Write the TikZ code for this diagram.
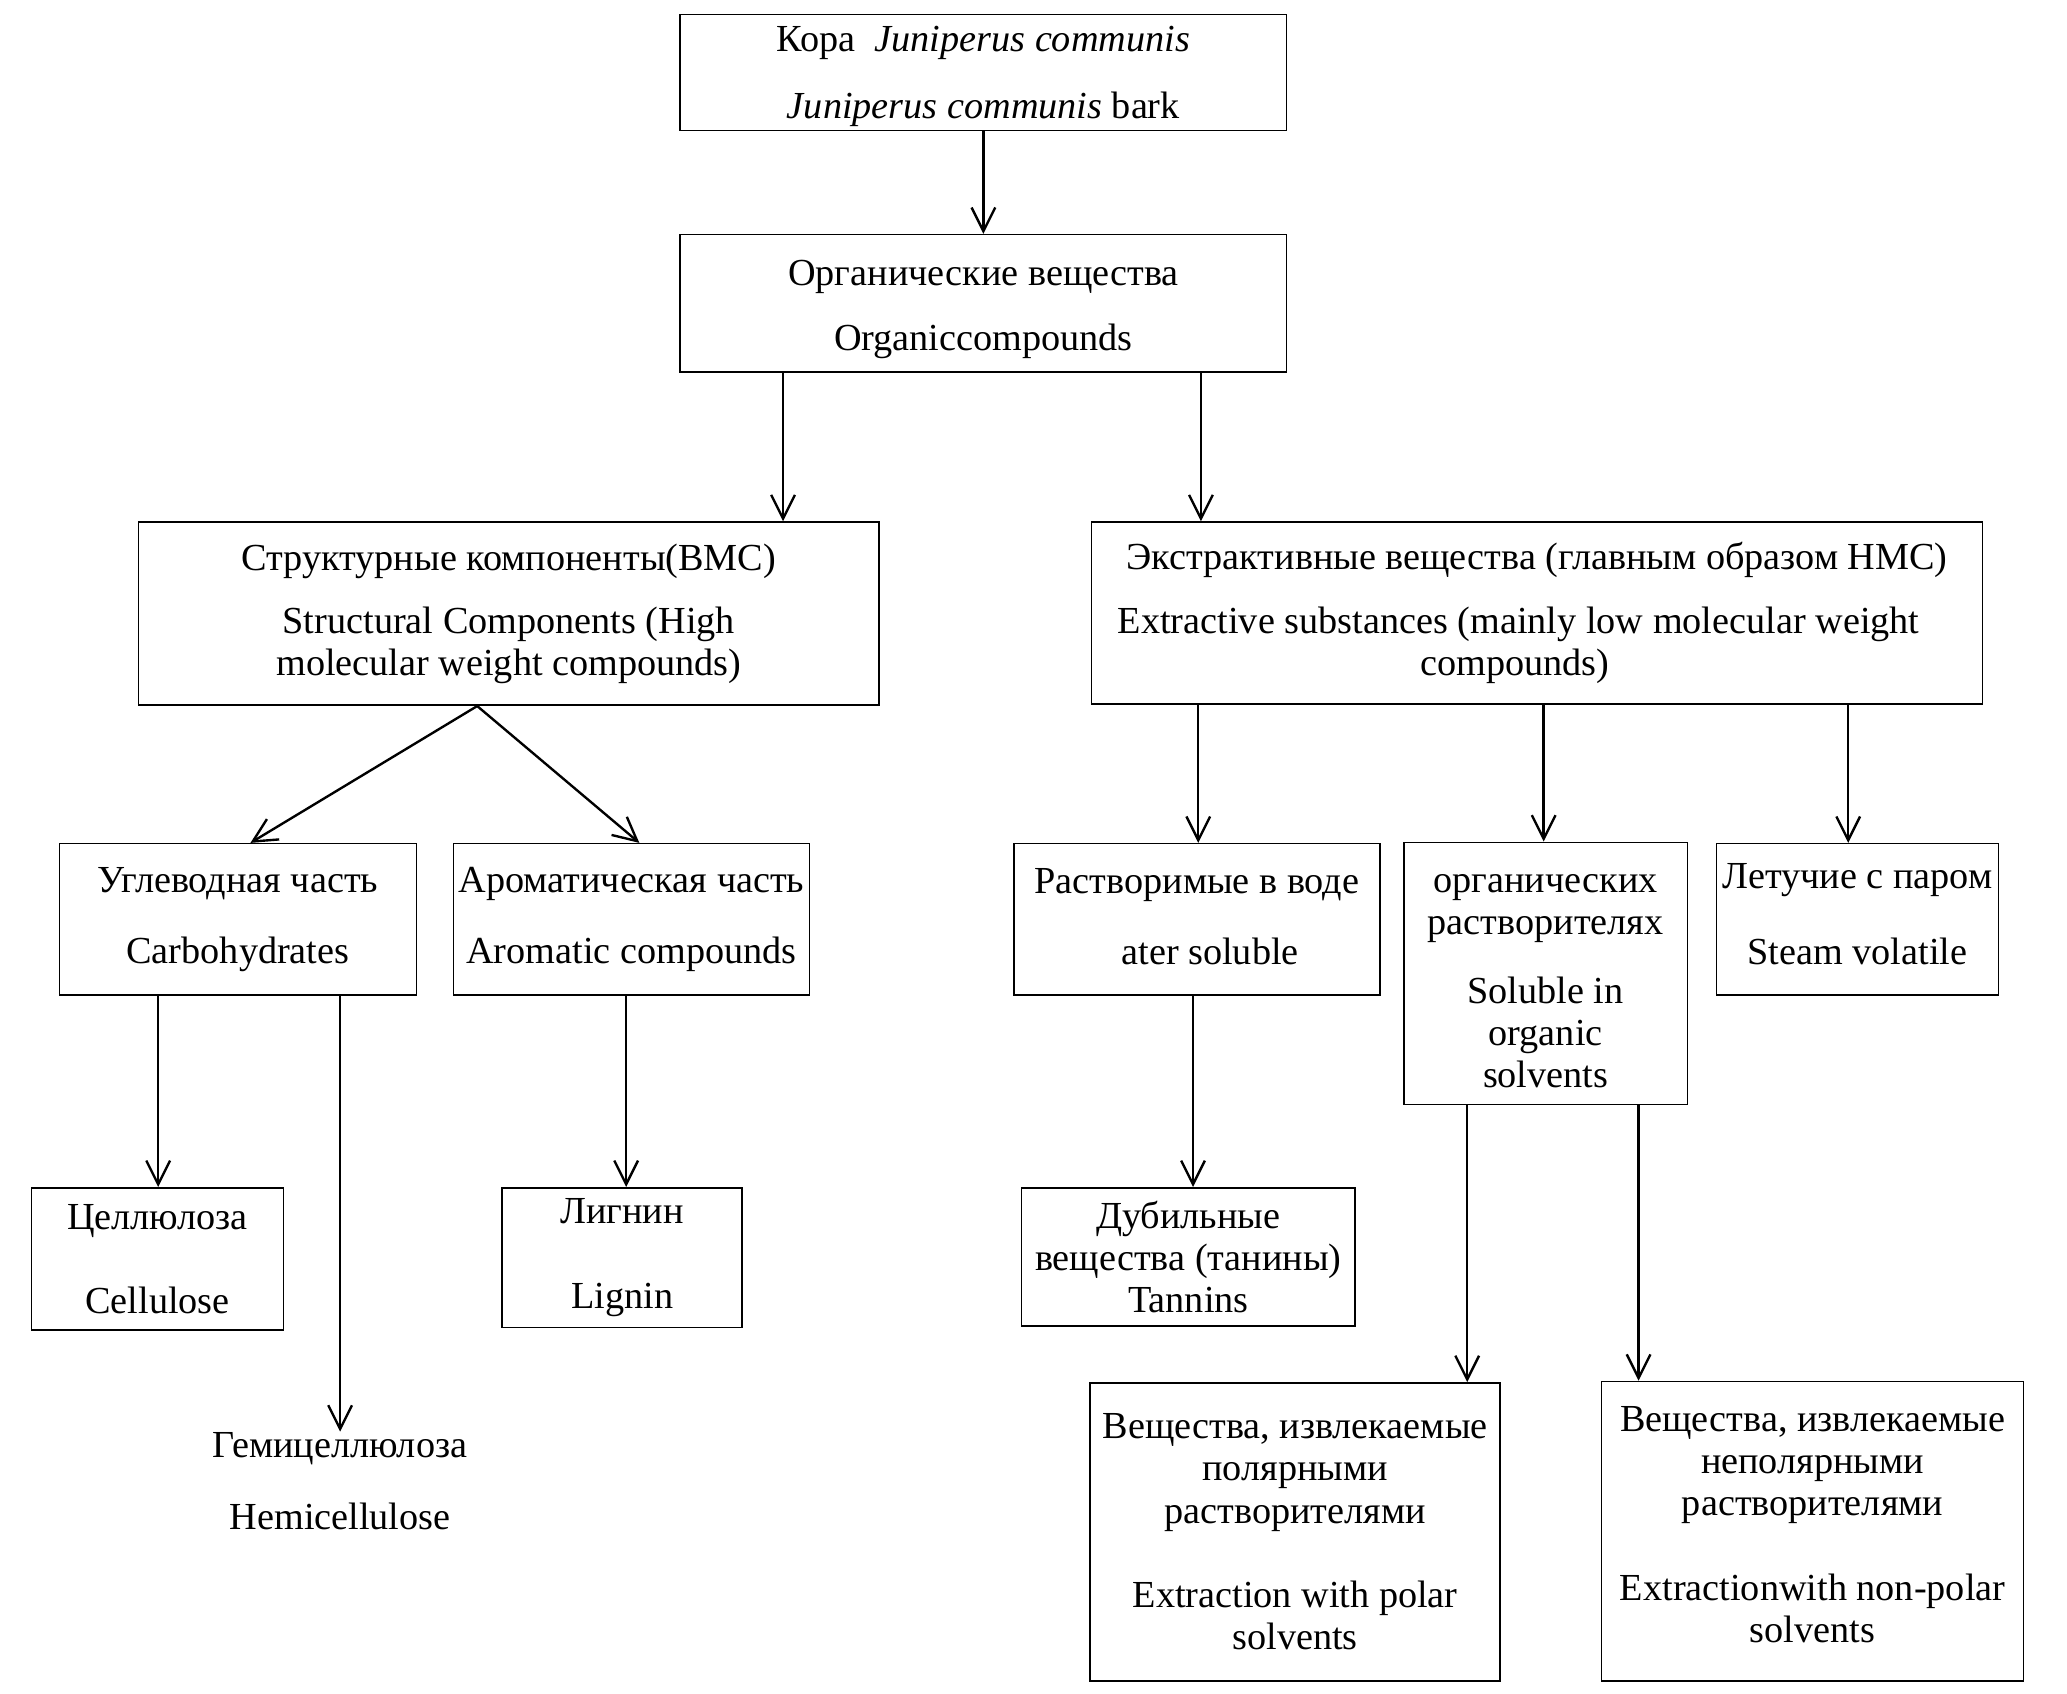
\documentclass[tikz,border=0pt]{standalone}
\usepackage{fontspec}
\setmainfont{Liberation Serif}
\usetikzlibrary{arrows.meta}
\begin{document}
\begin{tikzpicture}[x=0.5pt,y=-0.5pt,
  box/.style={draw, line width=0.6pt, inner sep=0pt, align=center,
    font=\fontsize{14.5pt}{16pt}\selectfont},
  txt/.style={inner sep=0pt, align=center, font=\fontsize{14.5pt}{16pt}\selectfont},
  arr/.style={line width=0.9pt, -{Straight Barb[length=9pt,width=9pt,line width=0.9pt]}}]
\useasboundingbox (0,0) rectangle (1568,1285);
% boxes
\node[box, minimum width=230pt, minimum height=44pt] (b1) at (746,55)
  {\rule{0pt}{12.6pt}Кора\ \ \textit{Juniperus communis}\\[9.5pt]\textit{Juniperus communis} bark};
\node[box, minimum width=230pt, minimum height=52pt] (b2) at (746,230)
  {\rule{0pt}{14.3pt}Органические вещества\\[8.5pt]Organiccompounds};
\node[box, minimum width=281pt, minimum height=69.5pt] (b3) at (386,465.5)
  {Структурные компоненты(ВМС)\\[8pt]Structural Components (High\\molecular weight compounds)};
\node[box, minimum width=338pt, minimum height=69pt] (b4) at (1166,465)
  {Экстрактивные вещества (главным образом НМС)\\[8pt]Extractive substances (mainly low molecular weight\rule{14pt}{0pt}\\compounds)\rule{17pt}{0pt}};
\node[box, minimum width=135.5pt, minimum height=57.5pt] (b5) at (180.5,697.5)
  {Углеводная часть\\[11pt]Carbohydrates};
\node[box, minimum width=135pt, minimum height=57.5pt] (b6) at (479,697.5)
  {Ароматическая часть\\[11pt]Aromatic compounds};
\node[box, minimum width=139pt, minimum height=57.5pt] (b7) at (908,697.5)
  {Растворимые в воде\\[11pt]\hspace*{10pt}ater soluble\rule[-2pt]{0pt}{2pt}};
\node[box, minimum width=107.5pt, minimum height=99.5pt] (b8) at (1172.5,738.5)
  {\rule{0pt}{12.7pt}органических\\растворителях\\[10pt]Soluble in\\organic\\solvents};
\node[box, minimum width=107pt, minimum height=57.5pt] (b9) at (1409,697.5)
  {Летучие с паром\\[13pt]Steam volatile\rule[-4pt]{0pt}{4pt}};
\node[box, minimum width=95.5pt, minimum height=54pt] (b10) at (119.5,955)
  {Целлюлоза\\[16pt]Cellulose};
\node[box, minimum width=91pt, minimum height=53pt] (b11) at (472,954)
  {Лигнин\\[16.5pt]Lignin};
\node[box, minimum width=126.5pt, minimum height=52.5pt] (b12) at (901.5,953.5)
  {Дубильные\\вещества (танины)\\Tannins};
\node[box, minimum width=155.5pt, minimum height=113pt] (b13) at (982.5,1162)
  {Вещества, извлекаемые\\полярными\\растворителями\\[16pt]Extraction with polar\\solvents};
\node[box, minimum width=160pt, minimum height=113.5pt] (b14) at (1375,1161.5)
  {Вещества, извлекаемые\\неполярными\\растворителями\\[16pt]Extractionwith non-polar\\solvents\rule[-5pt]{0pt}{5pt}};
\node[txt, anchor=north] (hemi) at (258,1086)
  {Гемицеллюлоза\\[11.5pt]Hemicellulose};
% helper x positions
\coordinate (x594) at (594,0);
\coordinate (x911) at (911,0);
\coordinate (x362) at (362,0);
\coordinate (x190) at (190,0);
\coordinate (x485) at (485,0);
\coordinate (x909) at (909,0);
\coordinate (x1171) at (1171,0);
\coordinate (x1402) at (1402,0);
\coordinate (x120) at (120,0);
\coordinate (x258) at (258,0);
\coordinate (x475) at (475,0);
\coordinate (x905) at (905,0);
\coordinate (x1113) at (1113,0);
\coordinate (x1243) at (1243,0);
% connectors
\draw[arr] (b1.south) -- (b2.north);
\draw[arr] (b2.south -| x594) -- (b3.north -| x594);
\draw[arr] (b2.south -| x911) -- (b4.north -| x911);
\draw[arr] (b3.south -| x362) -- (b5.north -| x190);
\draw[arr] (b3.south -| x362) -- (b6.north -| x485);
\draw[arr] (b4.south -| x909) -- (b7.north -| x909);
\draw[arr] (b4.south -| x1171) -- (b8.north -| x1171);
\draw[arr] (b4.south -| x1402) -- (b9.north -| x1402);
\draw[arr] (b5.south -| x120) -- (b10.north -| x120);
\draw[arr] (b5.south -| x258) -- (hemi.north -| x258);
\draw[arr] (b6.south -| x475) -- (b11.north -| x475);
\draw[arr] (b7.south -| x905) -- (b12.north -| x905);
\draw[arr] (b8.south -| x1113) -- (b13.north -| x1113);
\draw[arr] (b8.south -| x1243) -- (b14.north -| x1243);
\end{tikzpicture}
\end{document}
